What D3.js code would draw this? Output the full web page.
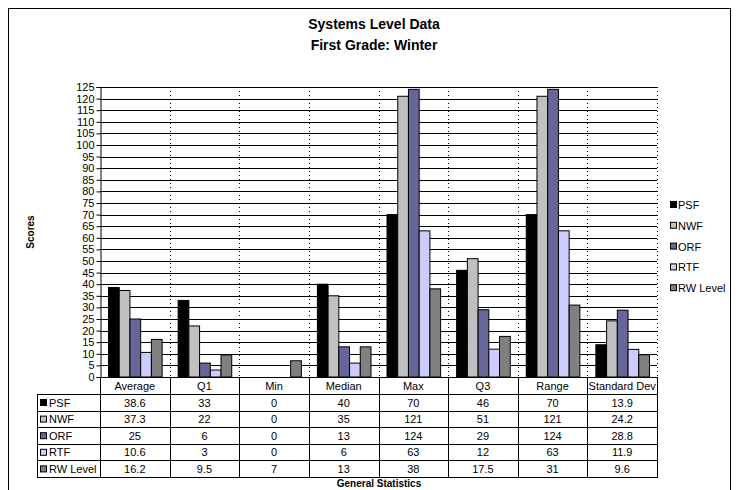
<!DOCTYPE html>
<html>
<head>
<meta charset="utf-8">
<script src="https://cdn.jsdelivr.net/npm/d3@7"></script>
<style>
  html, body { margin: 0; padding: 0; background: #fff; }
  svg { display: block; font-family: "Liberation Sans", Arial, sans-serif; }
</style>
</head>
<body>
<svg id="chart" width="738" height="490"></svg>
<script>
const categories = ["Average", "Q1", "Min", "Median", "Max", "Q3", "Range", "Standard Dev"];
const seriesNames = ["PSF", "NWF", "ORF", "RTF", "RW Level"];
const psf = [38.6, 33, 0, 40, 70, 46, 70, 13.9];
const nwf = [37.3, 22, 0, 35, 121, 51, 121, 24.2];
const orf = [25, 6, 0, 13, 124, 29, 124, 28.8];
const rtf = [10.6, 3, 0, 6, 63, 12, 63, 11.9];
const rwLevel = [16.2, 9.5, 7, 13, 38, 17.5, 31, 9.6];
const yTicks = d3.range(0, 126, 5);
const colors = ["#000000", "#C0C0C0", "#666699", "#CCCCFF", "#808080"];

(function () {
const seriesValues = [psf, nwf, orf, rtf, rwLevel];
const svg = d3.select("#chart");

// outer border
svg.append("rect").attr("x", 8.5).attr("y", 8.5).attr("width", 722).attr("height", 490)
  .attr("fill", "none").attr("stroke", "#000").attr("stroke-width", 1);

// title
svg.append("text").attr("x", 374).attr("y", 29).attr("text-anchor", "middle")
  .attr("font-size", 14).attr("font-weight", "bold").text("Systems Level Data");
svg.append("text").attr("x", 374).attr("y", 50).attr("text-anchor", "middle")
  .attr("font-size", 14).attr("font-weight", "bold").text("First Grade: Winter");

const pLeft = 100, pRight = 657, pTop = 87, pBottom = 377;
const x0 = d3.scaleBand().domain(categories).range([pLeft, pRight]).paddingInner(0).paddingOuter(0);
const bw = x0.bandwidth();
const x1 = d3.scaleBand().domain(seriesNames).range([bw * 0.115, bw * 0.885]).padding(0);
const y = d3.scaleLinear().domain([0, 125]).range([pBottom, pTop]);

// gridlines
svg.append("g").selectAll("line").data(yTicks.filter(d => d > 0)).join("line")
  .attr("x1", pLeft).attr("x2", pRight)
  .attr("y1", d => Math.round(y(d)) + 0.5).attr("y2", d => Math.round(y(d)) + 0.5)
  .attr("stroke", "#000").attr("stroke-width", 1);

// vertical dotted separators
const sepX = categories.slice(1).map(c => x0(c)).concat([pRight]);
svg.append("g").selectAll("line").data(sepX).join("line")
  .attr("x1", d => Math.round(d) + 0.5).attr("x2", d => Math.round(d) + 0.5)
  .attr("y1", pTop).attr("y2", pBottom)
  .attr("stroke", "#000").attr("stroke-width", 1).attr("stroke-dasharray", "1,3");

// bars
const groups = svg.append("g").selectAll("g").data(categories).join("g")
  .attr("transform", d => `translate(${x0(d)},0)`);
groups.selectAll("rect").data((c, ci) => seriesNames.map((s, si) => ({ s, si, v: seriesValues[si][ci] })))
  .join("rect")
  .attr("x", d => x1(d.s) + 0.5)
  .attr("y", d => y(d.v))
  .attr("width", x1.bandwidth())
  .attr("height", d => pBottom - y(d.v))
  .attr("fill", d => colors[d.si])
  .attr("stroke", d => d.v > 0 ? "#000" : "none")
  .attr("stroke-width", 1);

// y axis
const yAxis = d3.axisLeft(y).tickValues(yTicks).tickSize(4).tickPadding(2);
const ag = svg.append("g").attr("transform", `translate(${pLeft + 0.5},0)`).call(yAxis);
ag.select(".domain").attr("stroke", "#000");
ag.selectAll(".tick line").attr("stroke", "#000");
ag.selectAll("text").attr("font-size", 11).attr("fill", "#000")
  .attr("font-family", "'Liberation Sans', Arial, sans-serif");

// x axis line
svg.append("line").attr("x1", pLeft).attr("x2", pRight).attr("y1", pBottom + 0.5).attr("y2", pBottom + 0.5)
  .attr("stroke", "#000");

// y label
svg.append("text").attr("transform", "translate(34,232) rotate(-90)").attr("text-anchor", "middle")
  .attr("font-size", 10).attr("font-weight", "bold").text("Scores");

// data table
const rowH = 16.6;
const headTop = pBottom, headBot = pBottom + 17;
const tableLeft = 37;
const tg = svg.append("g");
tg.selectAll("text.h").data(categories).join("text").attr("class", "h")
  .attr("x", d => x0(d) + bw / 2).attr("y", headTop + 13).attr("text-anchor", "middle")
  .attr("font-size", 11).text(d => d);
const vxs = categories.map(c => x0(c)).concat([pRight]);
tg.selectAll("line.v").data(vxs).join("line").attr("class", "v")
  .attr("x1", d => Math.round(d) + 0.5).attr("x2", d => Math.round(d) + 0.5)
  .attr("y1", headTop).attr("y2", headBot + rowH * 5)
  .attr("stroke", "#000");
tg.append("line").attr("x1", tableLeft + 0.5).attr("x2", tableLeft + 0.5)
  .attr("y1", headBot).attr("y2", headBot + rowH * 5).attr("stroke", "#000");
tg.selectAll("line.hz").data(d3.range(6)).join("line").attr("class", "hz")
  .attr("x1", tableLeft).attr("x2", pRight + 1)
  .attr("y1", i => Math.round(headBot + i * rowH) + 0.5).attr("y2", i => Math.round(headBot + i * rowH) + 0.5)
  .attr("stroke", "#000");
seriesNames.forEach((s, si) => {
  const ry = headBot + si * rowH;
  tg.append("rect").attr("x", 40.5).attr("y", ry + 5.5).attr("width", 6).attr("height", 6)
    .attr("fill", colors[si]).attr("stroke", "#000").attr("stroke-width", 1);
  tg.append("text").attr("x", 49).attr("y", ry + 12.5).attr("font-size", 11).text(s);
  tg.append("g").selectAll("text").data(categories).join("text")
    .attr("x", c => x0(c) + bw / 2).attr("y", ry + 12.5).attr("text-anchor", "middle")
    .attr("font-size", 11).text((c, ci) => seriesValues[si][ci]);
});
svg.append("text").attr("x", 379).attr("y", 487).attr("text-anchor", "middle")
  .attr("font-size", 10).attr("font-weight", "bold").text("General Statistics");

// legend
const lg = svg.append("g");
seriesNames.forEach((s, si) => {
  const ly = 205 + si * 20.8;
  lg.append("rect").attr("x", 670.5).attr("y", ly - 3.5).attr("width", 6).attr("height", 6)
    .attr("fill", colors[si]).attr("stroke", "#000").attr("stroke-width", 1);
  lg.append("text").attr("x", 678).attr("y", ly + 4).attr("font-size", 11).text(s);
});
})();
</script>
</body>
</html>
